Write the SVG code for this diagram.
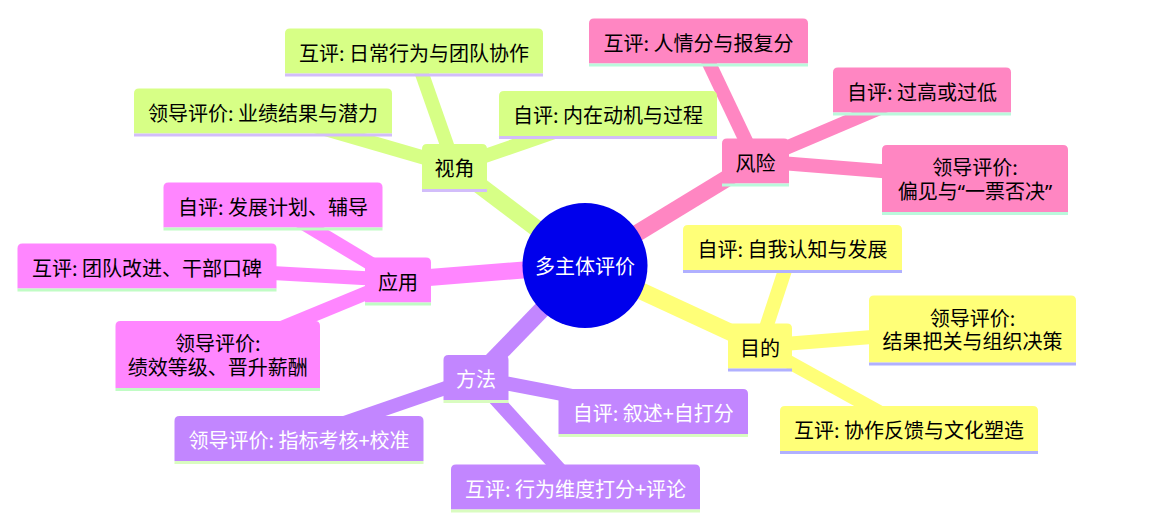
<svg xmlns="http://www.w3.org/2000/svg" width="1156" height="521" viewBox="0 0 1156 521">
<style>
text{font-family:"Noto Sans CJK SC","Noto Sans",sans-serif;font-size:20px;text-anchor:middle;fill:#000}
.q{font-family:"Noto Sans","Noto Sans CJK SC",sans-serif}
.e{fill:none;stroke-linecap:butt}
.d0{stroke-width:17}
.d1{stroke-width:14}
.bar{stroke-width:3}
.s0 path{fill:#FFFF78}.s0 line{stroke:#b0b0ff}.e0{stroke:#FFFF78}
.s1 path{fill:#D7FF86}.s1 line{stroke:#d2bdfa}.e1{stroke:#D7FF86}
.s2 path{fill:#C286FF}.s2 line{stroke:#d9fcc0}.s2 text{fill:#fff}.e2{stroke:#C286FF}
.s3 path{fill:#FF86FF}.s3 line{stroke:#c0fcc4}.e3{stroke:#FF86FF}
.s4 path{fill:#FF86C2}.s4 line{stroke:#baf9dc}.e4{stroke:#FF86C2}
</style>
<g id="edges">
<line class="e e1 d0" x1="585" y1="265" x2="454.5" y2="166.5"/>
<line class="e e1 d1" x1="454.5" y1="166.5" x2="414" y2="51"/>
<line class="e e1 d1" x1="454.5" y1="166.5" x2="263" y2="111"/>
<line class="e e1 d1" x1="454.5" y1="166.5" x2="608" y2="113.5"/>
<line class="e e4 d0" x1="585" y1="265" x2="755.5" y2="161"/>
<line class="e e4 d1" x1="755.5" y1="161" x2="698.5" y2="41"/>
<line class="e e4 d1" x1="755.5" y1="161" x2="922" y2="90"/>
<line class="e e4 d1" x1="755.5" y1="161" x2="975" y2="178.5"/>
<line class="e e0 d0" x1="585" y1="265" x2="760" y2="346"/>
<line class="e e0 d1" x1="760" y1="346" x2="792.5" y2="247.5"/>
<line class="e e0 d1" x1="760" y1="346" x2="972.5" y2="329"/>
<line class="e e0 d1" x1="760" y1="346" x2="909" y2="428.5"/>
<line class="e e2 d0" x1="585" y1="265" x2="476" y2="377.5"/>
<line class="e e2 d1" x1="476" y1="377.5" x2="653" y2="411.5"/>
<line class="e e2 d1" x1="476" y1="377.5" x2="299" y2="438.5"/>
<line class="e e2 d1" x1="476" y1="377.5" x2="575.5" y2="487"/>
<line class="e e3 d0" x1="585" y1="265" x2="398" y2="280"/>
<line class="e e3 d1" x1="398" y1="280" x2="273" y2="205"/>
<line class="e e3 d1" x1="398" y1="280" x2="147" y2="266"/>
<line class="e e3 d1" x1="398" y1="280" x2="217.5" y2="354.5"/>
</g>
<g id="root">
<circle cx="585" cy="265.5" r="62.5" fill="#0000EC"/>
<text x="585" y="274" style="fill:#fff">多主体评价</text>
</g>
<g id="n-shijiao" class="s1" transform="translate(422,144)">
<path d="M0,45V5Q0,0 5,0H60Q65,0 65,5V45Z"/><line class="bar" x1="0" y1="46.5" x2="65" y2="46.5"/>
<text x="32.5" y="32">视角</text>
</g>
<g id="l-hp-richang" class="s1" transform="translate(285,28.5)">
<path d="M0,45V5Q0,0 5,0H253Q258,0 258,5V45Z"/><line class="bar" x1="0" y1="46.5" x2="258" y2="46.5"/>
<text x="129" y="32">互评: 日常行为与团队协作</text>
</g>
<g id="l-ld-yeji" class="s1" transform="translate(134,88.5)">
<path d="M0,45V5Q0,0 5,0H253Q258,0 258,5V45Z"/><line class="bar" x1="0" y1="46.5" x2="258" y2="46.5"/>
<text x="129" y="32">领导评价: 业绩结果与潜力</text>
</g>
<g id="l-zp-neizai" class="s1" transform="translate(499,91)">
<path d="M0,45V5Q0,0 5,0H213Q218,0 218,5V45Z"/><line class="bar" x1="0" y1="46.5" x2="218" y2="46.5"/>
<text x="109" y="32">自评: 内在动机与过程</text>
</g>
<g id="n-fengxian" class="s4" transform="translate(722,138.5)">
<path d="M0,45V5Q0,0 5,0H62Q67,0 67,5V45Z"/><line class="bar" x1="0" y1="46.5" x2="67" y2="46.5"/>
<text x="33.5" y="32">风险</text>
</g>
<g id="l-hp-renqing" class="s4" transform="translate(589,18.5)">
<path d="M0,45V5Q0,0 5,0H214Q219,0 219,5V45Z"/><line class="bar" x1="0" y1="46.5" x2="219" y2="46.5"/>
<text x="109.5" y="32">互评: 人情分与报复分</text>
</g>
<g id="l-zp-guogao" class="s4" transform="translate(833,67.5)">
<path d="M0,45V5Q0,0 5,0H173Q178,0 178,5V45Z"/><line class="bar" x1="0" y1="46.5" x2="178" y2="46.5"/>
<text x="89" y="32">自评: 过高或过低</text>
</g>
<g id="l-ld-pianjian" class="s4" transform="translate(882,145)">
<path d="M0,67V5Q0,0 5,0H181Q186,0 186,5V67Z"/><line class="bar" x1="0" y1="68.5" x2="186" y2="68.5"/>
<text x="93" y="30">领导评价:<tspan x="93" dy="23.5">偏见与<tspan class="q">“</tspan>一票否决<tspan class="q">”</tspan></tspan></text>
</g>
<g id="n-mudi" class="s0" transform="translate(728,323.5)">
<path d="M0,45V5Q0,0 5,0H59Q64,0 64,5V45Z"/><line class="bar" x1="0" y1="46.5" x2="64" y2="46.5"/>
<text x="32" y="32">目的</text>
</g>
<g id="l-zp-ziwo" class="s0" transform="translate(683,225)">
<path d="M0,45V5Q0,0 5,0H214Q219,0 219,5V45Z"/><line class="bar" x1="0" y1="46.5" x2="219" y2="46.5"/>
<text x="109.5" y="32">自评: 自我认知与发展</text>
</g>
<g id="l-ld-jieguo" class="s0" transform="translate(869,295.5)">
<path d="M0,67V5Q0,0 5,0H202Q207,0 207,5V67Z"/><line class="bar" x1="0" y1="68.5" x2="207" y2="68.5"/>
<text x="103.5" y="30">领导评价:<tspan x="103.5" dy="23.5">结果把关与组织决策</tspan></text>
</g>
<g id="l-hp-xiezuo" class="s0" transform="translate(780,406)">
<path d="M0,45V5Q0,0 5,0H253Q258,0 258,5V45Z"/><line class="bar" x1="0" y1="46.5" x2="258" y2="46.5"/>
<text x="129" y="32">互评: 协作反馈与文化塑造</text>
</g>
<g id="n-fangfa" class="s2" transform="translate(443.5,355)">
<path d="M0,45V5Q0,0 5,0H60Q65,0 65,5V45Z"/><line class="bar" x1="0" y1="46.5" x2="65" y2="46.5"/>
<text x="32.5" y="32">方法</text>
</g>
<g id="l-zp-xushu" class="s2" transform="translate(558.5,389)">
<path d="M0,45V5Q0,0 5,0H184.5Q189.5,0 189.5,5V45Z"/><line class="bar" x1="0" y1="46.5" x2="189.5" y2="46.5"/>
<text x="94.75" y="32">自评: 叙述+自打分</text>
</g>
<g id="l-ld-zhibiao" class="s2" transform="translate(174.5,416)">
<path d="M0,45V5Q0,0 5,0H244Q249,0 249,5V45Z"/><line class="bar" x1="0" y1="46.5" x2="249" y2="46.5"/>
<text x="124.5" y="32">领导评价: 指标考核+校准</text>
</g>
<g id="l-hp-xingwei" class="s2" transform="translate(451,464.5)">
<path d="M0,45V5Q0,0 5,0H244Q249,0 249,5V45Z"/><line class="bar" x1="0" y1="46.5" x2="249" y2="46.5"/>
<text x="124.5" y="32">互评: 行为维度打分+评论</text>
</g>
<g id="n-yingyong" class="s3" transform="translate(365,257.5)">
<path d="M0,45V5Q0,0 5,0H61Q66,0 66,5V45Z"/><line class="bar" x1="0" y1="46.5" x2="66" y2="46.5"/>
<text x="33" y="32">应用</text>
</g>
<g id="l-zp-fazhan" class="s3" transform="translate(163.5,182.5)">
<path d="M0,45V5Q0,0 5,0H214Q219,0 219,5V45Z"/><line class="bar" x1="0" y1="46.5" x2="219" y2="46.5"/>
<text x="109.5" y="32">自评: 发展计划、辅导</text>
</g>
<g id="l-hp-tuandui" class="s3" transform="translate(17.5,243.5)">
<path d="M0,45V5Q0,0 5,0H254Q259,0 259,5V45Z"/><line class="bar" x1="0" y1="46.5" x2="259" y2="46.5"/>
<text x="129.5" y="32">互评: 团队改进、干部口碑</text>
</g>
<g id="l-ld-jixiao" class="s3" transform="translate(115.5,321)">
<path d="M0,67V5Q0,0 5,0H199.5Q204.5,0 204.5,5V67Z"/><line class="bar" x1="0" y1="68.5" x2="204.5" y2="68.5"/>
<text x="102.25" y="30">领导评价:<tspan x="102.25" dy="23.5">绩效等级、晋升薪酬</tspan></text>
</g>
</svg>
